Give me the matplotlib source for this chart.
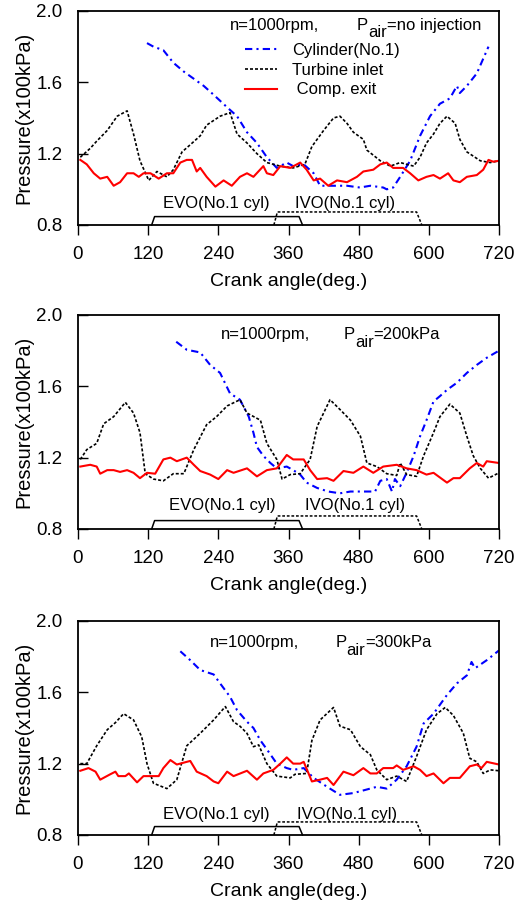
import matplotlib.pyplot as plt

plt.rcParams['font.family'] = ['Liberation Sans', 'DejaVu Sans']

# ---- n=1000rpm, no air injection ----
turb1_x = [4, 21, 32, 50, 67, 84, 95, 106, 121, 135, 152, 163, 178, 192, 209, 220, 243, 260, 272, 289,
           306, 323, 346, 368, 388, 400, 420, 437, 448, 460, 471, 488, 494, 517, 534, 551, 574, 585, 596,
           608, 619, 631, 645, 653, 665, 688, 705, 720]
turb1_y = [1.18, 1.23, 1.27, 1.33, 1.41, 1.44, 1.31, 1.16, 1.05, 1.10, 1.07, 1.11, 1.21, 1.25, 1.30, 1.36,
           1.41, 1.43, 1.31, 1.26, 1.20, 1.15, 1.13, 1.12, 1.14, 1.24, 1.33, 1.40, 1.41, 1.37, 1.32, 1.28,
           1.22, 1.16, 1.13, 1.15, 1.13, 1.18, 1.26, 1.31, 1.37, 1.41, 1.37, 1.28, 1.21, 1.16, 1.15, 1.16]
cyl1_x = [118, 129, 146, 163, 181, 198, 215, 232, 255, 272, 289, 306, 323, 340, 357, 368, 386, 403, 414,
          437, 460, 482, 500, 522, 528, 539, 551, 568, 585, 602, 619, 636, 648, 653, 665, 682, 702]
cyl1_y = [1.82, 1.80, 1.78, 1.71, 1.66, 1.62, 1.58, 1.53, 1.46, 1.41, 1.32, 1.26, 1.18, 1.12, 1.15, 1.13,
          1.14, 1.09, 1.02, 1.02, 1.02, 1.01, 1.02, 1.01, 1.00, 1.01, 1.07, 1.16, 1.30, 1.41, 1.48, 1.51,
          1.58, 1.54, 1.58, 1.65, 1.80]
comp1_x = [4, 15, 27, 38, 50, 61, 72, 84, 95, 104, 112, 124, 138, 152, 163, 175, 186, 195, 203, 209, 220,
           235, 249, 263, 277, 289, 300, 317, 323, 334, 346, 363, 380, 391, 403, 414, 428, 443, 460, 477,
           488, 505, 517, 528, 539, 556, 568, 582, 596, 608, 619, 633, 642, 653, 665, 682, 693, 702, 710, 720]
comp1_y = [1.165, 1.14, 1.09, 1.06, 1.07, 1.02, 1.04, 1.09, 1.09, 1.07, 1.09, 1.09, 1.06, 1.09, 1.09, 1.15,
           1.165, 1.165, 1.10, 1.12, 1.07, 1.015, 1.05, 1.02, 1.07, 1.09, 1.07, 1.13, 1.09, 1.08, 1.13, 1.12,
           1.15, 1.11, 1.05, 1.06, 1.02, 1.05, 1.04, 1.07, 1.10, 1.11, 1.14, 1.15, 1.12, 1.12, 1.09, 1.05,
           1.07, 1.08, 1.06, 1.09, 1.05, 1.04, 1.07, 1.08, 1.11, 1.165, 1.155, 1.16]

# ---- n=1000rpm, Pair=200kPa ----
turb2_x = [4, 15, 32, 44, 61, 81, 95, 106, 115, 129, 146, 163, 181, 198, 220, 237, 255, 277, 289, 312,
           323, 340, 349, 363, 380, 397, 409, 431, 448, 466, 483, 494, 511, 528, 545, 551, 562, 579, 591,
           608, 619, 636, 653, 665, 676, 688, 702, 720]
turb2_y = [1.19, 1.245, 1.28, 1.39, 1.43, 1.51, 1.45, 1.34, 1.11, 1.08, 1.07, 1.11, 1.11, 1.245, 1.385,
           1.43, 1.49, 1.525, 1.45, 1.41, 1.28, 1.19, 1.08, 1.105, 1.11, 1.19, 1.375, 1.525, 1.47, 1.41,
           1.32, 1.17, 1.15, 1.11, 1.10, 1.17, 1.105, 1.095, 1.21, 1.34, 1.43, 1.50, 1.45, 1.32, 1.21, 1.14,
           1.085, 1.115]
cyl2_x = [168, 186, 209, 226, 243, 260, 277, 292, 300, 306, 317, 329, 340, 357, 368, 380, 391, 409, 428,
          448, 466, 488, 508, 517, 528, 537, 542, 551, 562, 574, 585, 596, 608, 619, 631, 648, 665, 682,
          699, 720]
cyl2_y = [1.85, 1.805, 1.79, 1.72, 1.675, 1.56, 1.525, 1.43, 1.34, 1.26, 1.21, 1.17, 1.14, 1.15, 1.13,
          1.105, 1.06, 1.03, 1.01, 1.00, 1.01, 1.01, 1.01, 1.07, 1.08, 1.01, 1.08, 1.04, 1.115, 1.21, 1.32,
          1.41, 1.515, 1.545, 1.58, 1.62, 1.675, 1.72, 1.76, 1.80]
comp2_x = [4, 21, 32, 38, 50, 61, 72, 84, 95, 106, 118, 132, 146, 158, 169, 186, 198, 209, 226, 240, 255,
           266, 289, 306, 323, 340, 357, 368, 386, 397, 409, 426, 437, 454, 471, 488, 505, 522, 545, 562,
           579, 596, 608, 631, 642, 653, 670, 682, 693, 699, 720]
comp2_y = [1.15, 1.16, 1.15, 1.11, 1.13, 1.13, 1.12, 1.13, 1.115, 1.085, 1.115, 1.11, 1.19, 1.20, 1.18,
           1.20, 1.16, 1.125, 1.105, 1.08, 1.13, 1.115, 1.14, 1.095, 1.13, 1.14, 1.215, 1.19, 1.19, 1.13,
           1.08, 1.085, 1.07, 1.125, 1.115, 1.15, 1.115, 1.15, 1.16, 1.14, 1.13, 1.105, 1.115, 1.06, 1.085,
           1.085, 1.14, 1.17, 1.15, 1.18, 1.17]

# ---- n=1000rpm, Pair=300kPa ----
turb3_x = [4, 15, 32, 50, 64, 78, 95, 109, 118, 129, 152, 169, 186, 209, 232, 252, 266, 277, 289, 300,
           309, 323, 340, 363, 371, 391, 400, 414, 437, 448, 466, 483, 500, 511, 528, 545, 562, 579, 596,
           614, 628, 642, 659, 670, 682, 693, 705, 720]
turb3_y = [1.20, 1.20, 1.30, 1.39, 1.43, 1.48, 1.445, 1.35, 1.20, 1.09, 1.06, 1.11, 1.30, 1.37, 1.445,
           1.52, 1.435, 1.41, 1.37, 1.295, 1.305, 1.20, 1.13, 1.12, 1.14, 1.145, 1.33, 1.445, 1.515, 1.41,
           1.39, 1.295, 1.25, 1.165, 1.11, 1.13, 1.10, 1.24, 1.39, 1.48, 1.515, 1.47, 1.37, 1.23, 1.21,
           1.145, 1.165, 1.16]
cyl3_x = [175, 192, 209, 232, 243, 260, 272, 289, 300, 312, 323, 340, 357, 368, 386, 403, 426, 448, 471,
          494, 511, 528, 545, 562, 579, 591, 608, 631, 648, 665, 673, 679, 699, 720]
cyl3_y = [1.83, 1.78, 1.725, 1.70, 1.65, 1.575, 1.50, 1.435, 1.40, 1.33, 1.28, 1.20, 1.175, 1.165, 1.175,
          1.12, 1.07, 1.025, 1.035, 1.055, 1.07, 1.06, 1.11, 1.185, 1.295, 1.425, 1.48, 1.585, 1.65, 1.695,
          1.77, 1.735, 1.78, 1.835]
comp3_x = [4, 18, 30, 38, 55, 64, 69, 81, 87, 101, 112, 129, 138, 146, 158, 169, 186, 192, 203, 220, 232,
           240, 255, 266, 289, 306, 317, 334, 346, 357, 368, 380, 386, 400, 414, 426, 437, 454, 471, 488,
           500, 511, 522, 539, 545, 556, 574, 585, 596, 608, 625, 636, 653, 670, 682, 690, 699, 720]
comp3_y = [1.16, 1.175, 1.155, 1.11, 1.14, 1.155, 1.13, 1.13, 1.145, 1.095, 1.13, 1.13, 1.13, 1.175, 1.22,
           1.195, 1.21, 1.215, 1.155, 1.13, 1.10, 1.09, 1.155, 1.13, 1.16, 1.11, 1.145, 1.165, 1.20, 1.235,
           1.20, 1.20, 1.21, 1.10, 1.11, 1.12, 1.08, 1.155, 1.135, 1.175, 1.145, 1.145, 1.175, 1.175, 1.19,
           1.165, 1.185, 1.165, 1.13, 1.145, 1.09, 1.12, 1.12, 1.185, 1.195, 1.175, 1.21, 1.195]

# valve lift markers (crank angle, nominal height)
evo_x = [126, 131, 378, 384]
evo_y = [0.8, 0.847, 0.847, 0.8]
ivo_x = [335, 341, 579, 588]
ivo_y = [0.8, 0.873, 0.873, 0.8]

panels = [
    (turb1_x, turb1_y, cyl1_x, cyl1_y, comp1_x, comp1_y, 'no injection',
     (260, 477, 1.92), (146, 371, 0.918)),
    (turb2_x, turb2_y, cyl2_x, cyl2_y, comp2_x, comp2_y, '200kPa',
     (244, 454, 1.89), (155, 388, 0.93)),
    (turb3_x, turb3_y, cyl3_x, cyl3_y, comp3_x, comp3_y, '300kPa',
     (225, 440, 1.88), (146, 374, 0.914)),
]

fig = plt.figure(figsize=(5.32, 9.01), dpi=100)
tops = [0.9878, 0.6504, 0.3108]
h = 0.2375
fs_txt = 12

for i, (tx, ty, cx, cy, px, py, pair, title_pos, valve_pos) in enumerate(panels):
    ax = fig.add_axes([0.1466, tops[i] - h, 0.7914, h])
    ax.plot(cx, cy, color='#0000ff', lw=1.5, ls=(0, (3.5, 2, 1, 2)), label='Cylinder(No.1)')
    ax.plot(tx, ty, color='black', lw=1.2, ls=(0, (1.8, 1.2)), label='Turbine inlet')
    ax.plot(px, py, color='#ff0000', lw=1.5, label=' Comp. exit')

    ax.plot(evo_x, evo_y, color='black', lw=1.1, clip_on=False)
    ax.plot(ivo_x, ivo_y, color='black', lw=1.1, ls=(0, (1.8, 1.2)), clip_on=False)

    ax.text(title_pos[0], title_pos[2], 'n=1000rpm,', fontsize=fs_txt, va='center')
    # P with a large, dropped "air" subscript
    ax.annotate('P', (title_pos[1], title_pos[2]), fontsize=fs_txt, va='center')
    ax.annotate('air', (title_pos[1], title_pos[2]), xytext=(8.2, -5.5), textcoords='offset points',
                fontsize=fs_txt, va='center')
    ax.annotate('=' + pair, (title_pos[1], title_pos[2]), xytext=(21.5, 0), textcoords='offset points',
                fontsize=fs_txt, va='center')
    ax.text(valve_pos[0], valve_pos[2], 'EVO(No.1 cyl)', fontsize=fs_txt, va='center')
    ax.text(valve_pos[1], valve_pos[2], 'IVO(No.1 cyl)', fontsize=fs_txt, va='center')

    ax.set_xlim(0, 720)
    ax.set_ylim(0.8, 2.0)
    ax.set_xticks(range(0, 721, 120))
    ax.set_yticks([0.8, 1.2, 1.6, 2.0])
    ax.set_yticklabels(['0.8', '1.2', '1.6', '2.0'])
    ax.tick_params(axis='x', direction='out', length=7, width=1, labelsize=13.5, pad=8)
    ax.tick_params(axis='y', direction='in', length=7.5, width=1, labelsize=13.5, pad=11)
    for s in ax.spines.values():
        s.set_linewidth(1.3)
    ax.set_xlabel('Crank angle(deg.)', fontsize=14, labelpad=7)
    ax.set_ylabel('Pressure(x100kPa)', fontsize=14.5, labelpad=2)

    if i == 0:
        ax.legend(loc='upper left', bbox_to_anchor=(0.397, 0.85), frameon=False, fontsize=fs_txt,
                  handlelength=1.9, handletextpad=0.9, labelspacing=0.28, borderaxespad=0,
                  borderpad=0)

fig.savefig('out.png', dpi=100)
